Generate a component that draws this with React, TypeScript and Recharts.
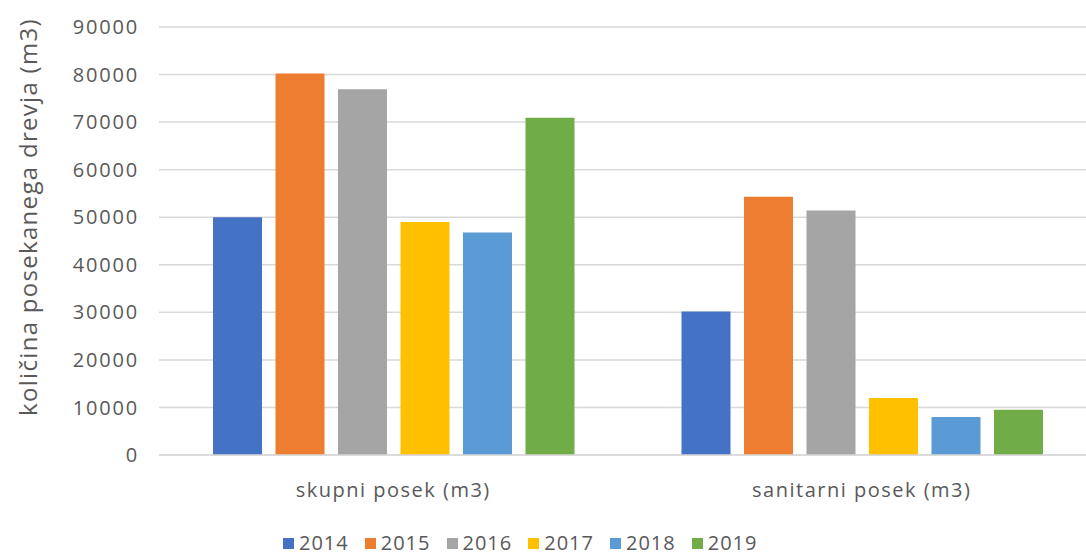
import React from 'react';
import { BarChart, Bar, XAxis, YAxis, CartesianGrid, Legend } from 'recharts';

const categories = ['skupni posek (m3)', 'sanitarni posek (m3)'];
const years = ['2014', '2015', '2016', '2017', '2018', '2019'];
const colors = ['#4472C4', '#ED7D31', '#A5A5A5', '#FFC000', '#5B9BD5', '#70AD47'];
const skupni = [50000, 80200, 76900, 49000, 46800, 70900];
const sanitarni = [30200, 54300, 51400, 12000, 8000, 9500];
const yTicks = [0, 10000, 20000, 30000, 40000, 50000, 60000, 70000, 80000, 90000];
const yTitle = 'količina posekanega drevja (m3)';

const rows = [skupni, sanitarni];
const data = categories.map((name, i) => {
  const row: any = { name };
  years.forEach((y, j) => {
    row[y] = rows[i][j];
  });
  return row;
});

const FONT = '"Open Sans", sans-serif';
const GREY = '#595959';

const LegendContent = () => (
  <div style={{ display: 'flex', fontFamily: FONT, fontSize: 20, lineHeight: '22px', color: GREY, letterSpacing: 1 }}>
    {years.map((y, i) => (
      <div key={y} style={{ display: 'flex', alignItems: 'center', marginRight: 16 }}>
        <span style={{ width: 11, height: 11, background: colors[i], marginRight: 5, display: 'inline-block' }} />
        <span>{y}</span>
      </div>
    ))}
  </div>
);

const YTitle = () => (
  <text
    x={27}
    y={217}
    transform="rotate(-90 27 217)"
    textAnchor="middle"
    dominantBaseline="central"
    fill={GREY}
    fontSize={24}
    fontFamily={FONT}
    letterSpacing={1.3}
  >
    {yTitle}
  </text>
);

export default function App() {
  return (
    <div style={{ position: 'fixed', left: 0, top: 0, width: 1086, height: 555, overflow: 'hidden', background: '#fff' }}>
      <BarChart
        width={1100}
        height={555}
        data={data}
        margin={{ top: 27, right: 4, left: 0, bottom: 0 }}
        barSize={49}
        barGap={13.5}
      >
        <CartesianGrid stroke="#d9d9d9" strokeWidth={1.5} vertical={false} />
        <XAxis
          dataKey="name"
          height={78}
          axisLine={{ stroke: '#d9d9d9', strokeWidth: 1.5 }}
          tickLine={false}
          tickMargin={22}
          tick={{ fill: GREY, fontSize: 20, fontFamily: FONT, letterSpacing: 1.5 }}
        />
        <YAxis
          width={159}
          domain={[0, 90000]}
          ticks={yTicks}
          axisLine={false}
          tickLine={false}
          tickMargin={14}
          tick={{ fill: GREY, fontSize: 20, fontFamily: FONT, letterSpacing: 1.8 }}
          label={<YTitle />}
        />
        <Legend
          content={<LegendContent />}
          height={0}
          wrapperStyle={{ position: 'absolute', top: 532, left: 283, width: 'auto' }}
        />
        {years.map((y, i) => (
          <Bar key={y} dataKey={y} fill={colors[i]} isAnimationActive={false} />
        ))}
      </BarChart>
    </div>
  );
}
